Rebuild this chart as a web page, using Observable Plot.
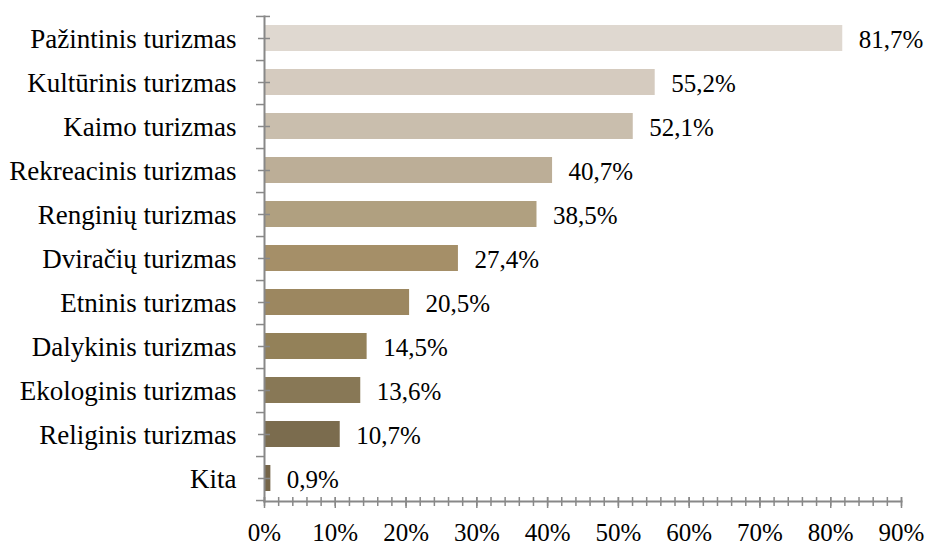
<!DOCTYPE html>
<html><head><meta charset="utf-8">
<script src="https://cdn.jsdelivr.net/npm/d3@7"></script>
<script src="https://cdn.jsdelivr.net/npm/@observablehq/plot@0.6"></script>
<style>
body{margin:0;background:#fff}
svg, svg text{font-family:"Liberation Serif","Times New Roman",serif !important;}
</style>
</head><body><div id="chart"></div>
<script>
const categories = ["Pažintinis turizmas","Kultūrinis turizmas","Kaimo turizmas","Rekreacinis turizmas","Renginių turizmas","Dviračių turizmas","Etninis turizmas","Dalykinis turizmas","Ekologinis turizmas","Religinis turizmas","Kita"];
const values = [81.7,55.2,52.1,40.7,38.5,27.4,20.5,14.5,13.6,10.7,0.9];
const barColors = ["#dfd8d0","#d5cbbf","#c9bead","#bcae97","#b0a080","#a58f68","#9c8760","#938159","#887856","#7b6c4e","#756549"];
const xTicks = [0,10,20,30,40,50,60,70,80,90];
const minorTicks = d3.range(0, 91, 2);

const data = categories.map((c, i) => ({category: c, value: values[i]}));
const W = 927, H = 545, mT = 16, mB = 44, mL = 264, mR = 26;
const step = (H - mT - mB) / categories.length;
const axisColor = "#888888";
const font = "Liberation Serif";
const fsCat = 27, fsVal = 25;

const chart = Plot.plot({
  width: W, height: H, marginTop: mT, marginBottom: mB, marginLeft: mL, marginRight: mR,
  style: {fontFamily: font, fontSize: fsVal + "px", color: "#000", background: "#fff", overflow: "visible"},
  x: {domain: [0, 90]},
  y: {domain: categories, paddingInner: 0.4, paddingOuter: 0.2, align: 0.5},
  color: {domain: categories, range: barColors},
  marks: [
    Plot.barX(data, {x: "value", y: "category", fill: "category"}),
    Plot.text(data, {x: "value", y: "category", text: d => d.value.toFixed(1).replace(".", ",") + "%", textAnchor: "start", dx: 16, dy: 1, fontSize: fsVal, fontFamily: font, fill: "#000"}),
    Plot.frame({anchor: "left", stroke: axisColor, strokeWidth: 2}),
    Plot.frame({anchor: "bottom", stroke: axisColor, strokeWidth: 2}),
    // y ticks at category centers (crossing)
    Plot.axisY({tickSize: 12, dx: 6, fill: "none", stroke: axisColor, strokeWidth: 1.5, label: null}),
    // y ticks at category boundaries
    Plot.axisY({tickSize: 8, dy: step / 2, fill: "none", stroke: axisColor, strokeWidth: 1.5, label: null}),
    Plot.axisY([categories[0]], {tickSize: 14, dx: 6, dy: -step / 2, fill: "none", stroke: axisColor, strokeWidth: 1.5, label: null}),
    // y labels
    Plot.axisY({tickSize: 0, tickPadding: 28, dy: 1, fontSize: fsCat, fontFamily: font, fill: "#000", label: null}),
    // x minor ticks
    Plot.axisX({ticks: minorTicks, tickSize: 9, dy: -4, fill: "none", stroke: axisColor, strokeWidth: 1.5, label: null}),
    // x major ticks
    Plot.axisX({ticks: xTicks, tickSize: 11, dy: -4, fill: "none", stroke: axisColor, strokeWidth: 1.5, label: null}),
    // x labels
    Plot.axisX({ticks: xTicks, tickSize: 0, tickPadding: 22, tickFormat: d => d + "%", fontSize: fsVal, fontFamily: font, fill: "#000", label: null})
  ]
});
document.getElementById("chart").append(chart);
</script>
</body></html>
